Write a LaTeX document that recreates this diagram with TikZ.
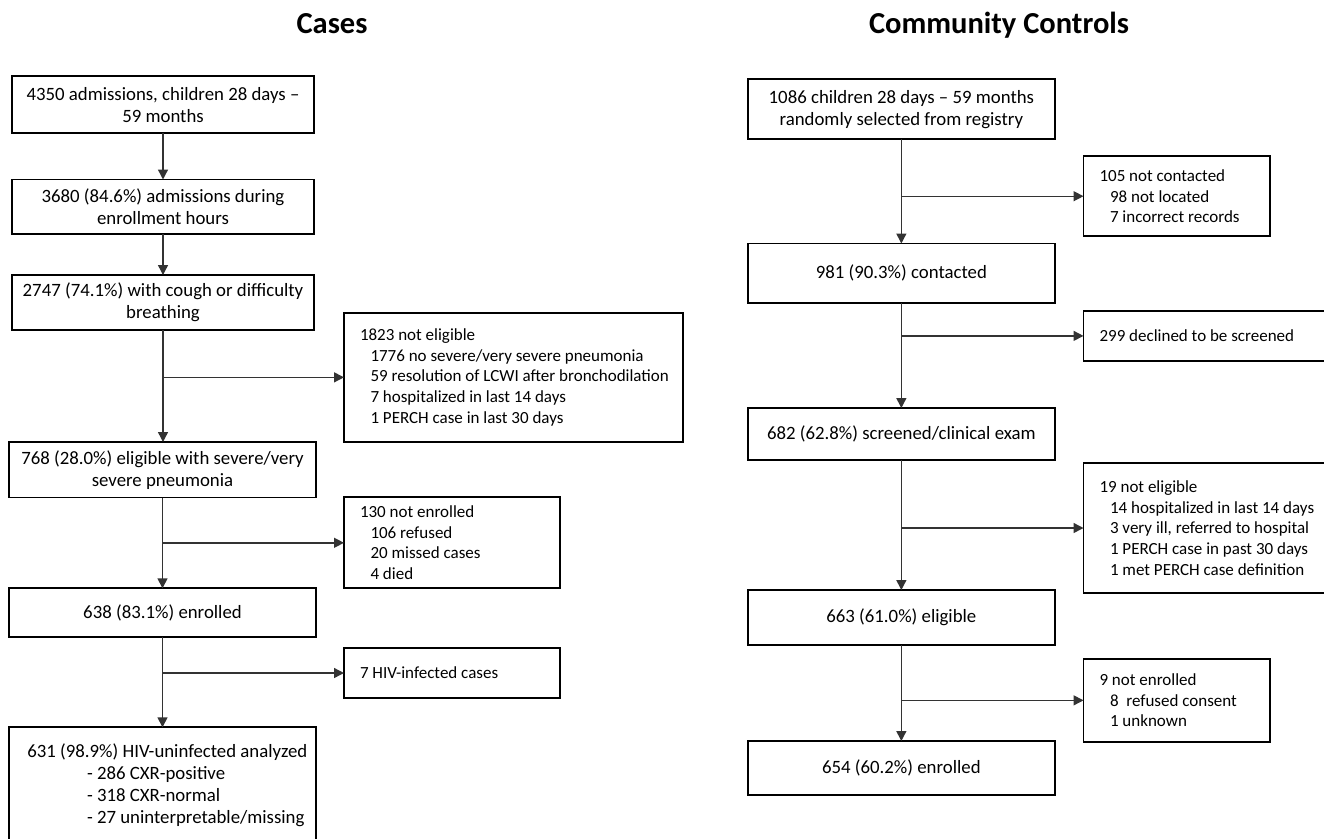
\documentclass[tikz,border=0pt]{standalone}
\usepackage{fontspec}
\setmainfont{Carlito}
\usetikzlibrary{arrows.meta}
\newcommand{\nsp}{\spaceskip=0pt\xspaceskip=0pt\relax}
\newcommand{\ind}{\hspace*{10.5pt}}
\newcommand{\tline}[1]{\mbox{#1}}
\begin{document}
\begin{tikzpicture}[x=1pt,y=-1pt,
  box/.style={draw=black, line width=1.9pt, inner sep=0pt, outer sep=0pt, anchor=north west, align=center, font=\fontsize{18.8}{22}\selectfont},
  side/.style={draw=black, line width=1.9pt, inner ysep=0pt, inner xsep=16pt, outer sep=0pt, anchor=north west, align=left, text width=#1, font=\fontsize{17}{20.6}\selectfont},
  arr/.style={draw=black!80, line width=1.4pt, -{Triangle[length=10pt,width=10pt]}},
  ttl/.style={font=\fontsize{30.5}{34}\selectfont\bfseries, anchor=base}
]
\useasboundingbox (0,0) rectangle (1324,838);
\clip (0,0) rectangle (1324,838);

% titles
\node[ttl] (t1) at (332,33) {Cases};
\node[ttl] (t2) at (999,33) {Community Controls};

% left column
\node[box, minimum width=302, minimum height=57.3] (b1) at (12,76) {4350 admissions, children 28 days –\\59 months};
\node[box, minimum width=302, minimum height=54.5] (b2) at (12,179.5) {3680 (84.6\%) admissions during\\enrollment hours};
\node[box, minimum width=302, minimum height=55] (b3) at (12,275) {2747 (74.1\%) with cough or difficulty\\breathing};
\node[box, minimum width=306.4, minimum height=55.5] (b4) at (9.3,442) {768 (28.0\%) eligible with severe/very\\severe pneumonia};
\node[box, minimum width=306.4, minimum height=49] (b5) at (9.3,588.3) {638 (83.1\%) enrolled};
\node[box, minimum width=306.4, minimum height=116.2, inner xsep=3pt, text width=300.4pt, align=left] (b6) at (9.3,727.3)
  {\nsp\tline{\hspace*{15pt}631 (98.9\%) HIV-uninfected analyzed}\\
   \tline{\hspace*{74.7pt}- 286 CXR-positive}\\
   \tline{\hspace*{74.7pt}- 318 CXR-normal}\\
   \tline{\hspace*{74.7pt}- 27 uninterpretable/missing}};

\node[side=306.7pt, minimum height=128.7] (s1) at (344,313)
  {\nsp\tline{1823 not eligible}\\
   \tline{\ind 1776 no severe/very severe pneumonia}\\
   \tline{\ind 59 resolution of LCWI after bronchodilation}\\
   \tline{\ind 7 hospitalized in last 14 days}\\
   \tline{\ind 1 PERCH case in last 30 days}};
\node[side=184pt, minimum height=91] (s2) at (344,497.3)
  {\nsp\tline{130 not enrolled}\\
   \tline{\ind 106 refused}\\
   \tline{\ind 20 missed cases}\\
   \tline{\ind 4 died}};
\node[side=184pt, minimum height=50.6] (s3) at (344,647.7) {\nsp\tline{7 HIV-infected cases}};

\draw[arr] (b1.south) -- (b1.south |- b2.north);
\draw[arr] (b2.south) -- (b2.south |- b3.north);
\draw[arr] (b3.south) -- (b3.south |- b4.north);
\draw[arr] (b4.south) -- (b4.south |- b5.north);
\draw[arr] (b5.south) -- (b5.south |- b6.north);
\draw[arr] (b3.south |- s1.west) -- (s1.west);
\draw[arr] (b4.south |- s2.west) -- (s2.west);
\draw[arr] (b5.south |- s3.west) -- (s3.west);

% right column
\node[box, minimum width=306.7, minimum height=59.6] (c1) at (748,79.4) {1086 children 28 days – 59 months\\randomly selected from registry};
\node[box, minimum width=306.7, minimum height=59.5] (c2) at (748,243.5) {981 (90.3\%) contacted};
\node[box, minimum width=306.7, minimum height=52] (c3) at (748,408) {682 (62.8\%) screened/clinical exam};
\node[box, minimum width=306.7, minimum height=55] (c4) at (748,590) {663 (61.0\%) eligible};
\node[box, minimum width=306.7, minimum height=54] (c5) at (748,741) {654 (60.2\%) enrolled};

\node[side=154.3pt, minimum height=79.6] (r1) at (1083.5,156.4)
  {\nsp\tline{105 not contacted}\\
   \tline{\ind 98 not located}\\
   \tline{\ind 7 incorrect records}};
\node[side=228pt, minimum height=50.2] (r2) at (1083.5,310.8) {\nsp\tline{299 declined to be screened}};
\node[side=228pt, minimum height=130.6] (r3) at (1083.5,462.7)
  {\nsp\tline{19 not eligible}\\
   \tline{\ind 14 hospitalized in last 14 days}\\
   \tline{\ind 3 very ill, referred to hospital}\\
   \tline{\ind 1 PERCH case in past 30 days}\\
   \tline{\ind 1 met PERCH case definition}};
\node[side=154.3pt, minimum height=82.7] (r4) at (1083.5,659)
  {\nsp\tline{9 not enrolled}\\
   \tline{\ind 8\ \ refused consent}\\
   \tline{\ind 1 unknown}};

\draw[arr] (c1.south) -- (c1.south |- c2.north);
\draw[arr] (c2.south) -- (c2.south |- c3.north);
\draw[arr] (c3.south) -- (c3.south |- c4.north);
\draw[arr] (c4.south) -- (c4.south |- c5.north);
\draw[arr] (c1.south |- r1.west) -- (r1.west);
\draw[arr] (c2.south |- r2.west) -- (r2.west);
\draw[arr] (c3.south |- r3.west) -- (r3.west);
\draw[arr] (c4.south |- r4.west) -- (r4.west);
\end{tikzpicture}
\end{document}
